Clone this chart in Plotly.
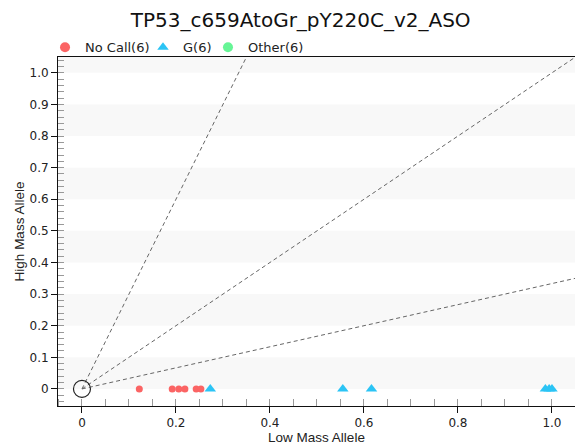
import plotly.graph_objects as go

title = "TP53_c659AtoGr_pY220C_v2_ASO"
x_label = "Low Mass Allele"
y_label = "High Mass Allele"

nocall_x = [0.122, 0.192, 0.206, 0.219, 0.243, 0.253]
nocall_y = [0, 0, 0, 0, 0, 0]
g_x = [0.273, 0.555, 0.616, 0.986, 0.994, 1.0]
g_y = [0, 0, 0, 0, 0, 0]
other_x = []
other_y = []
series_names = ["No Call(6)", "G(6)", "Other(6)"]
series_colors = ["#fb6464", "#2bc4f5", "#66f596"]
series_symbols = ["circle", "triangle-up", "circle"]
ratio_slopes = [3.0, 1.0, 1 / 3]
x_range = [-0.051, 1.049]
y_range = [-0.054, 1.05]
x_ticks = [0, 0.2, 0.4, 0.6, 0.8, 1.0]
x_ticktext = ["0", "0.2", "0.4", "0.6", "0.8", "1.0"]
y_ticks = [0, 0.1, 0.2, 0.3, 0.4, 0.5, 0.6, 0.7, 0.8, 0.9, 1.0]
y_ticktext = ["0", "0.1", "0.2", "0.3", "0.4", "0.5", "0.6", "0.7", "0.8", "0.9", "1.0"]
band_starts = [0.0, 0.2, 0.4, 0.6, 0.8, 1.0]
legend_ids = ["legend", "legend2", "legend3"]
legend_xs = [-0.0251, 0.1644, 0.2901]

tick_font = dict(family="DejaVu Sans", size=12, color="#222")

fig = go.Figure()

for s in ratio_slopes:
    xe = min(x_range[1], y_range[1] / s)
    fig.add_trace(go.Scatter(x=[0, xe], y=[0, s * xe], mode="lines",
                             line=dict(color="#666", width=1, dash="4px,3px"),
                             showlegend=False, hoverinfo="skip"))

fig.add_trace(go.Scatter(x=[0], y=[0], mode="markers",
                         marker=dict(symbol="circle-open", size=17, color="#222",
                                     line=dict(width=1.2, color="#222")),
                         showlegend=False, hoverinfo="skip"))

data_sets = [(nocall_x, nocall_y, 7), (g_x, g_y, 10), (other_x, other_y, 7)]
for (xs, ys, sz), name, col, sym, lid in zip(data_sets, series_names, series_colors,
                                               series_symbols, legend_ids):
    fig.add_trace(go.Scatter(x=xs, y=ys, mode="markers", name=name, legendgroup=name,
                             showlegend=False, marker=dict(symbol=sym, size=sz, color=col)))
    # legend entry with a larger symbol
    fig.add_trace(go.Scatter(x=[None], y=[None], mode="markers", name=name, legendgroup=name,
                             legend=lid, marker=dict(symbol=sym, size=10, color=col)))

shapes = []
for b in band_starts:
    shapes.append(dict(type="rect", xref="paper", x0=0, x1=1, yref="y", y0=b,
                       y1=min(b + 0.1, y_range[1]), fillcolor="#f8f8f8",
                       line=dict(width=0), layer="below"))

legend_common = dict(orientation="h", xanchor="left", y=0.985, yanchor="bottom",
                     font=dict(family="DejaVu Sans", size=13, color="#222"),
                     itemwidth=30, bgcolor="rgba(0,0,0,0)")

fig.update_layout(
    width=575, height=445,
    margin=dict(l=58, r=0, t=57, b=39),
    plot_bgcolor="white", paper_bgcolor="white",
    shapes=shapes,
    title=dict(text=title, x=0.523, xanchor="center", y=0.955, yanchor="middle",
               font=dict(family="DejaVu Sans", size=20, color="#111")),
    legend=dict(x=legend_xs[0], **legend_common),
    legend2=dict(x=legend_xs[1], **legend_common),
    legend3=dict(x=legend_xs[2], **legend_common),
    xaxis=dict(range=x_range, tickvals=x_ticks, ticktext=x_ticktext, automargin=False,
               showgrid=False, zeroline=False, showline=True, linecolor="#111",
               linewidth=1, mirror=True, ticks="outside", ticklen=6, tickcolor="#111",
               tickfont=tick_font,
               minor=dict(dtick=0.05, tick0=0, ticks="inside", ticklen=7, tickcolor="#999"),
               title=dict(text=x_label, font=dict(family="Liberation Sans", size=13.5, color="#222"),
                          standoff=3)),
    yaxis=dict(range=y_range, tickvals=y_ticks, ticktext=y_ticktext, automargin=False,
               showgrid=False, zeroline=False, showline=True, linecolor="#111",
               linewidth=1, ticks="outside", ticklen=6, tickcolor="#111",
               tickfont=tick_font,
               minor=dict(dtick=0.02, tick0=0, ticks="inside", ticklen=6, tickcolor="#999"),
               title=dict(text=y_label, font=dict(family="Liberation Sans", size=13.5, color="#222"),
                          standoff=1)),
)

fig.write_html("out.html")
